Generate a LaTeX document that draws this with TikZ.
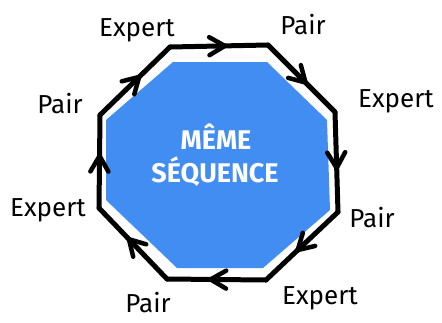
\documentclass[tikz,border=0pt]{standalone}
\usepackage{fontspec}
\setmainfont{Fira Sans}
\usetikzlibrary{calc}
\definecolor{seqblue}{HTML}{428DF2}

\begin{document}
\begin{tikzpicture}[x=1pt,y=-1pt,
  ring/.style={line width=5pt,line cap=round},
  barb/.style={line width=4.5pt,line cap=round,line join=round},
  role/.style={font=\fontsize{26}{26}\selectfont,inner sep=0pt},
  title/.style={white,font=\bfseries\fontsize{27}{27}\selectfont,inner sep=0pt}]

\useasboundingbox (0,0) rectangle (442,322);

% blue face
\fill[seqblue] (173,62) -- (267,62) -- (327,120) -- (330,210) -- (263,268)
  -- (177,268) -- (106,200) -- (106,120) -- cycle;
\node[title] (meme) at (216,137) {MÊME};
\node[title] (seq) at (215,172) {SÉQUENCE};

% corners of the cycle
\coordinate (v1) at (170,47);
\coordinate (v2) at (268,45);
\coordinate (v3) at (335,112);
\coordinate (v4) at (338,212);
\coordinate (v5) at (266,280);
\coordinate (v6) at (167,279);
\coordinate (v7) at (99,208);
\coordinate (v8) at (100,115);

\foreach \a/\b in {v1/v2,v2/v3,v3/v4,v4/v5,v5/v6,v6/v7,v7/v8,v8/v1}{
  \draw[ring] (\a) -- (\b);
  \coordinate (tip) at ($(\a)!.56!(\b)$);
  \draw[barb] ($(tip)!18pt!150:(\b)$) -- (tip) -- ($(tip)!18pt!-150:(\b)$);
}

% roles
\node[role] (expA) at (137,30) {Expert};
\node[role] (pairA) at (303,25) {Pair};
\node[role] (expB) at (396,101) {Expert};
\node[role] (pairB) at (372,218) {Pair};
\node[role] (expC) at (320,298) {Expert};
\node[role] (pairC) at (148,303) {Pair};
\node[role] (expD) at (48,210) {Expert};
\node[role] (pairD) at (60,104) {Pair};
\end{tikzpicture}
\end{document}
